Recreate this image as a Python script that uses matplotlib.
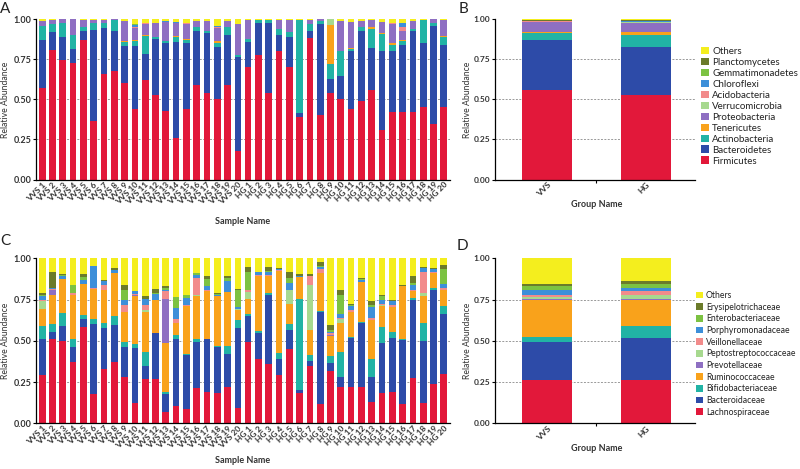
import numpy as np
import matplotlib.pyplot as plt
from matplotlib.patches import Patch

plt.rcParams['font.family'] = ['Lato', 'DejaVu Sans']

samples = [f'VVS {i}' for i in range(1, 21)] + [f'HG {i}' for i in range(1, 21)]
groups = ['VVS', 'HG']

# ---- phylum level (panel A: samples, panel B: groups) ----
phyla = ['Firmicutes', 'Bacteroidetes', 'Actinobacteria', 'Tenericutes', 'Proteobacteria',
         'Verrucomicrobia', 'Acidobacteria', 'Chloroflexi', 'Gemmatimonadetes',
         'Planctomycetes', 'Others']

firmicutes = [.57, .81, .745, .725, .87, .365, .66, .68, .60, .44, .62, .53, .43, .26, .44, .59, .54, .50, .59, .175,
              .70, .775, .54, .80, .70, .39, .885, .40, .54, .50, .44, .49, .56, .31, .42, .42, .42, .45, .345, .45]
bacteroidetes = [.30, .11, .145, .09, .06, .57, .285, .25, .235, .395, .165, .345, .42, .60, .415, .34, .375, .33, .315, .59,
                 .16, .20, .44, .105, .19, .025, .04, .57, .085, .145, .36, .44, .26, .49, .38, .42, .505, .405, .615, .39]
actinobacteria = [.09, .05, .09, .085, .025, .04, .035, .065, .025, .03, .11, .015, .015, .03, .015, .025, .01, .025, .05, .015,
                  .015, .02, .015, .035, .03, .58, .045, .02, .095, .16, .015, .025, .12, .11, .04, .025, .015, .14, .02, .05]
tenericutes = [0, 0, 0, 0, 0, 0, 0, 0, .005, .005, .01, 0, 0, .005, .005, 0, .005, .01, 0, 0,
               0, 0, 0, 0, 0, 0, 0, 0, .245, 0, .005, 0, .01, .005, .01, .005, 0, 0, 0, .005]
proteobacteria = [.03, .025, .02, .10, .04, .02, .015, .005, .125, .075, .065, .09, .12, .085, .095, .035, .06, .08, .035, .19,
                  .12, 0, 0, .055, .075, 0, .025, .01, 0, .185, .165, .035, .045, .07, .12, .06, .05, 0, .02, .10]
verrucomicrobia = [0, 0, 0, 0, 0, 0, 0, 0, 0, 0, 0, 0, 0, 0, 0, 0, 0, 0, 0, 0,
                   0, 0, 0, 0, 0, 0, 0, 0, .035, 0, 0, 0, 0, 0, 0, 0, 0, 0, 0, 0]
acidobacteria = [0, 0, 0, 0, 0, 0, 0, 0, 0, .01, .005, 0, 0, 0, .005, 0, 0, .01, 0, 0,
                 0, 0, 0, 0, 0, 0, 0, 0, 0, 0, 0, 0, 0, 0, .005, .02, 0, 0, 0, 0]
chloroflexi = [0, 0, 0, 0, 0, 0, 0, 0, 0, .01, .005, 0, .005, .005, 0, 0, 0, .005, 0, 0,
               0, 0, 0, 0, 0, 0, 0, 0, 0, 0, 0, 0, 0, 0, 0, .025, 0, 0, 0, 0]
gemmatimonadetes = [0, 0, 0, 0, 0, 0, 0, 0, 0, .005, 0, 0, 0, 0, 0, 0, 0, 0, 0, 0,
                    0, 0, 0, 0, 0, 0, 0, 0, 0, 0, 0, 0, 0, 0, 0, 0, 0, 0, 0, 0]
planctomycetes = [0] * 40
others_p = [.01, .005, 0, 0, .005, .005, .005, 0, .01, .03, .02, .02, .01, .015, .025, .01, .01, .04, .01, .03,
            .005, .005, .005, .005, .005, .005, .005, 0, 0, .01, .015, .01, .005, .015, .025, .025, .01, .005, 0, .005]

# group means, order VVS, HG
grp_firmicutes = [.56, .525]
grp_bacteroidetes = [.31, .305]
grp_actinobacteria = [.045, .075]
grp_tenericutes = [.005, .015]
grp_proteobacteria = [.065, .06]
grp_verrucomicrobia = [0, .003]
grp_acidobacteria = [.002, .003]
grp_chloroflexi = [.003, .004]
grp_gemmatimonadetes = [.002, .002]
grp_planctomycetes = [.003, .003]
grp_others_p = [.005, .005]

# ---- family level (panel C: samples, panel D: groups) ----
families = ['Lachnospiraceae', 'Bacteroidaceae', 'Bifidobacteriaceae', 'Ruminococcaceae',
            'Prevotellaceae', 'Peptostreptococcaceae', 'Veillonellaceae', 'Porphyromonadaceae',
            'Enterobacteriaceae', 'Erysipelotrichaceae', 'Others']

lachno = [.29, .51, .50, .37, .585, .18, .33, .37, .28, .125, .27, .27, .07, .105, .085, .215, .19, .185, .22, .09,
          .49, .39, .36, .29, .45, .185, .345, .12, .32, .22, .22, .22, .13, .185, .19, .12, .275, .125, .24, .30]
bacteroidaceae = [.22, .045, .09, .09, .05, .42, .25, .225, .185, .33, .08, .275, .11, .405, .33, .275, .32, .28, .20, .485,
                  .16, .155, .42, .10, .115, .015, .03, .555, .045, .06, .295, .385, .15, .30, .325, .385, .47, .375, .57, .365]
bifido = [.08, .045, .08, .05, .02, .035, .025, .055, .025, .025, .08, .005, .01, .025, .005, .02, 0, .005, .05, .05,
          .01, .015, .01, .035, .035, .555, .04, .005, .04, .155, .01, .01, .11, .10, .04, .005, .015, .105, .01, .045]
rumino = [.10, .18, .205, .27, .19, .18, .20, .26, .185, .29, .245, .195, .295, .07, .29, .26, .29, .30, .325, .06,
          .095, .335, .105, .50, .125, .13, .15, .23, .125, .175, .15, .24, .235, .125, .15, .32, .04, .165, .09, .10]
prevotell = [0, .03, 0, 0, 0, 0, 0, 0, 0, .005, 0, 0, .27, 0, 0, 0, 0, 0, 0, 0,
             0, 0, 0, 0, 0, 0, 0, 0, .005, 0, 0, 0, 0, 0, 0, 0, 0, 0, 0, 0]
pepto = [.05, 0, 0, 0, 0, 0, 0, 0, 0, 0, .01, 0, 0, 0, 0, .01, 0, 0, 0, .005,
         .04, 0, 0, 0, .085, 0, .275, 0, 0, .02, 0, 0, 0, .005, 0, 0, 0, .02, 0, 0]
veill = [.005, .005, 0, .01, 0, .005, .035, 0, .04, .01, .03, 0, .045, .025, .005, .10, .005, 0, 0, 0,
         .01, .005, .005, .005, 0, 0, .05, .025, .01, .01, .01, 0, .015, .01, .01, .005, .005, .13, .005, .01]
porph = [.025, .005, .02, 0, .025, .135, .025, .02, .03, .015, .04, .04, .01, .07, .045, .02, .03, .01, .07, .015,
         0, .02, .015, .005, .04, .01, .005, .01, .01, .025, .025, .015, .065, .025, .025, 0, .035, .02, .02, .025]
entero = [.01, 0, .005, .05, .015, 0, 0, 0, .065, 0, 0, .005, .01, .065, .02, .01, .04, .005, .015, .105,
          .11, 0, .01, 0, .03, 0, 0, .01, .01, .115, .005, .005, .01, .02, 0, 0, .01, 0, 0, .09]
erysip = [.01, .10, .005, 0, .02, 0, .005, .01, .03, 0, .015, .025, .01, 0, 0, 0, .015, .005, .01, .005,
          .035, 0, .02, .005, .04, .01, .01, .02, .03, .03, .01, .005, .025, .005, .005, .005, .04, .005, .005, .025]
others_f = [.21, .08, .095, .16, .095, .045, .13, .06, .16, .20, .23, .185, .17, .235, .22, .09, .11, .21, .11, .185,
            .05, .08, .055, .06, .08, .095, .095, .025, .405, .19, .275, .12, .26, .225, .255, .16, .11, .055, .06, .04]

grp_lachno = [.265, .265]
grp_bacteroidaceae = [.225, .255]
grp_bifido = [.035, .07]
grp_rumino = [.22, .16]
grp_prevotell = [.01, .005]
grp_pepto = [.01, .025]
grp_veill = [.015, .02]
grp_porph = [.03, .02]
grp_entero = [.02, .025]
grp_erysip = [.015, .015]
grp_others_f = [.155, .14]

colors = ['#E2183A', '#2D4BA8', '#21B3A5', '#F9A21B', '#8E6FC2', '#A7D98F',
          '#F28B8B', '#3D8FD9', '#7CC242', '#6B7B2A', '#F4EE1E']

series_a = [firmicutes, bacteroidetes, actinobacteria, tenericutes, proteobacteria, verrucomicrobia,
            acidobacteria, chloroflexi, gemmatimonadetes, planctomycetes, others_p]
series_b = [grp_firmicutes, grp_bacteroidetes, grp_actinobacteria, grp_tenericutes, grp_proteobacteria,
            grp_verrucomicrobia, grp_acidobacteria, grp_chloroflexi, grp_gemmatimonadetes,
            grp_planctomycetes, grp_others_p]
series_c = [lachno, bacteroidaceae, bifido, rumino, prevotell, pepto, veill, porph, entero, erysip, others_f]
series_d = [grp_lachno, grp_bacteroidaceae, grp_bifido, grp_rumino, grp_prevotell, grp_pepto,
            grp_veill, grp_porph, grp_entero, grp_erysip, grp_others_f]

W, H = 800, 469
fig = plt.figure(figsize=(W / 100, H / 100), dpi=100)


def px(x0, y_top, w, h):
    return [x0 / W, 1 - (y_top + h) / H, w / W, h / H]


def stack(ax, x, series, width):
    bottom = np.zeros(len(x))
    for vals, c in zip(series, colors):
        ax.bar(x, vals, width, bottom=bottom, color=c, linewidth=0, zorder=2)
        bottom += np.array(vals)


def style(ax, labels, label_fs, ytick_fs):
    ax.set_ylim(0, 1.0)
    ax.set_yticks([0, .25, .5, .75, 1.0])
    ax.set_yticklabels(['0.00', '0.25', '0.50', '0.75', '1.00'], fontsize=ytick_fs, fontweight='bold',
                       color='#333333')
    for y in (.25, .5, .75):
        ax.axhline(y, color='#999999', ls=(0, (2, 1.5)), lw=0.7, zorder=1)
    for s in ('top', 'right'):
        ax.spines[s].set_visible(False)
    for s in ('left', 'bottom'):
        ax.spines[s].set_linewidth(0.9)
    ax.tick_params(axis='y', length=2.5, width=0.8, pad=1)
    ax.tick_params(axis='x', length=0, pad=1)
    ax.set_xticks(range(len(labels)))
    ax.set_xticklabels(labels, rotation=45, ha='right', va='top', rotation_mode='anchor',
                       fontsize=label_fs, fontweight='bold', color='#333333')


x40 = np.arange(40)
x2 = np.arange(2)

axA = fig.add_axes(px(36, 19.3, 414, 160.2))
stack(axA, x40, series_a, 0.65)
style(axA, samples, 6, 6.5)
axA.set_xlim(-0.6, 39.6)

axB = fig.add_axes(px(495, 19.3, 200, 160.2))
stack(axB, x2, series_b, 0.505)
style(axB, groups, 6, 6)
axB.set_xlim(-0.525, 1.495)

axC = fig.add_axes(px(36, 258.3, 414, 165))
stack(axC, x40, series_c, 0.65)
style(axC, samples, 6, 6.5)
axC.set_xlim(-0.6, 39.6)

axD = fig.add_axes(px(495, 258.3, 200, 165))
stack(axD, x2, series_d, 0.505)
style(axD, groups, 6, 6)
axD.set_xlim(-0.525, 1.495)

for ax in (axB, axD):
    ax.set_xticks([0.5], minor=True)
    ax.tick_params(axis='x', which='minor', length=2.5, width=0.8)

# axis titles
lab = dict(fontsize=6.2, color='#333333', ha='center', va='center')
fig.text(6 / W, 1 - 100 / H, 'Relative Abundance', rotation=90, **lab)
fig.text(467 / W, 1 - 100 / H, 'Relative Abundance', rotation=90, **lab)
fig.text(6 / W, 1 - 341 / H, 'Relative Abundance', rotation=90, **lab)
fig.text(467 / W, 1 - 341 / H, 'Relative Abundance', rotation=90, **lab)
lab['fontsize'] = 6.5
fig.text(243 / W, 1 - 222 / H, 'Sample Name', fontweight='bold', **lab)
fig.text(243 / W, 1 - 460 / H, 'Sample Name', fontweight='bold', **lab)
fig.text(597 / W, 1 - 204 / H, 'Group Name', fontweight='bold', **lab)
fig.text(597 / W, 1 - 448 / H, 'Group Name', fontweight='bold', **lab)

for letter, xx, yy in (('A', 5, 9), ('B', 463, 9), ('C', 5, 241), ('D', 462, 246)):
    fig.text(xx / W, 1 - yy / H, letter, fontsize=11, ha='center', va='center', color='#222222')

# legends
for names, top, left, fs, sp in ((phyla, 47, 701, 7, 0.19), (families, 291, 696, 6.2, 0.31)):
    handles = [Patch(facecolor=c, edgecolor='none', label=n) for n, c in zip(names, colors)][::-1]
    fig.legend(handles=handles, loc='upper left', bbox_to_anchor=(left / W, 1 - top / H),
               frameon=False, fontsize=fs, handlelength=0.8, handleheight=0.8,
               handletextpad=0.35, labelspacing=sp, borderpad=0, borderaxespad=0,
               labelcolor='#222222')

fig.savefig('out.png', dpi=100)
